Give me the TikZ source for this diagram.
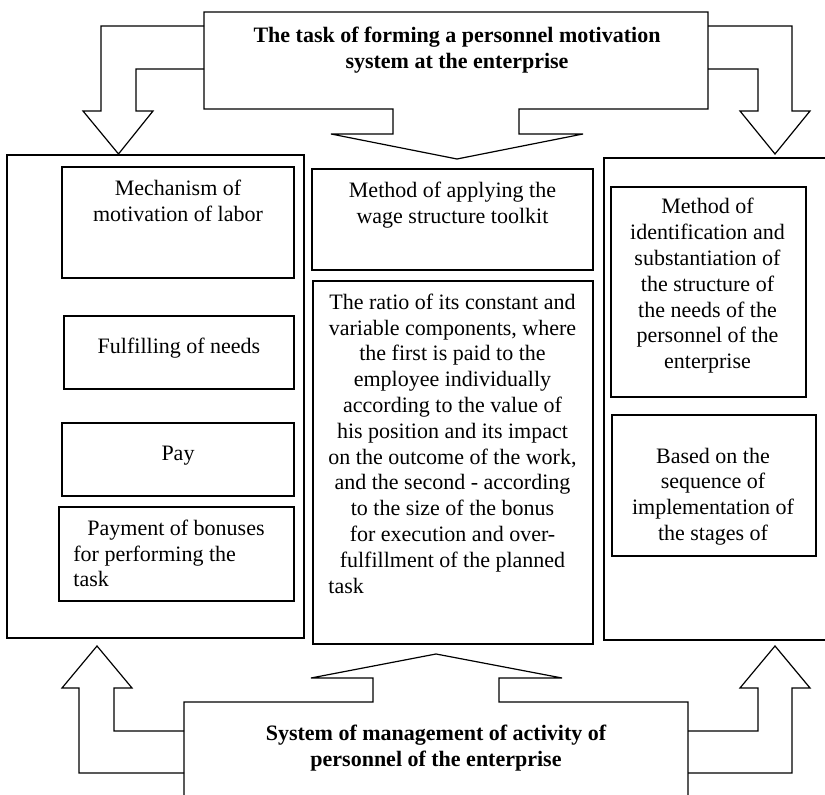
\documentclass[tikz,border=0pt]{standalone}
\usepackage{fontspec}
\setmainfont{Liberation Serif}
\usetikzlibrary{positioning}
\tikzset{
  panel/.style={draw, line width=0.6pt, inner sep=0pt},
  thinbox/.style={draw, line width=0.6pt, inner sep=0pt},
  thickbox/.style={draw, line width=1.3pt, inner sep=0pt},
  txt/.style={align=center, inner sep=0pt, font=\fontsize{11}{12.9}\selectfont},
  head/.style={align=center, inner sep=0pt, font=\bfseries\fontsize{11}{12.9}\selectfont},
  fat/.style={draw, line width=0.6pt, line join=miter},
}

\begin{document}
\begin{tikzpicture}[x=0.5pt,y=-0.5pt]
  \useasboundingbox (0,0) rectangle (825,795);
  % upper callout with its two block arrows
  \draw[fat] (204,12) -- (708,12) -- (708,109) -- (519,109) -- (519,134) -- (583,134)
    -- (457,159) -- (331,134) -- (393,134) -- (393,109) -- (204,109) -- cycle;
  \node[head] (task) at (457,50) {The task of forming a personnel motivation\\system at the enterprise};
  \draw[fat] (204,26) -- (101,26) -- (101,111) -- (83,111) -- (118.5,154) -- (153,111)
    -- (136,111) -- (136,69) -- (204,69);
  \draw[fat] (708,26) -- (792,26) -- (792,111) -- (810,111) -- (775,154) -- (740,111)
    -- (758,111) -- (758,69) -- (708,69);

  % left column
  \node[panel,minimum width=148.5pt,minimum height=241.5pt] (lpanel) at (155.5,396.5){};
  \node[thickbox,minimum width=116pt,minimum height=55.5pt] (mech) at (178,222.5){};
  \node[txt] (mechtxt) at (178,201){Mechanism of\\motivation of labor};
  \node[thinbox,minimum width=115pt,minimum height=36.5pt] (needs) at (179,352.5){};
  \node[txt] (needstxt) at (179,348){Fulfilling of needs};
  \node[thinbox,minimum width=116pt,minimum height=36.5pt] (pay) at (178,459.5){};
  \node[txt] (paytxt) at (178,456){Pay};
  \node[thinbox,minimum width=117.5pt,minimum height=47pt] (bonus) at (176.5,554){};
  \node[txt,align=left,anchor=west] (bonustxt) at (73,553.5)
    {\hspace*{7pt}Payment of bonuses\\for performing the\\task};

  % middle column
  \node[thickbox,minimum width=140.5pt,minimum height=50.5pt] (tool) at (452.5,219.5){};
  \node[txt] (tooltxt) at (452.5,205){Method of applying the\\wage structure toolkit};
  \node[thinbox,minimum width=140pt,minimum height=181.5pt] (ratio) at (453,462.5){};
  \node[txt] (ratiotxt) at (452.5,443.5){The ratio of its constant and\\variable components, where\\
    the first is paid to the\\employee individually\\according to the value of\\
    his position and its impact\\on the outcome of the work,\\and the second - according\\
    to the size of the bonus\\for execution and over-\hspace*{\fill}\\
    fulfillment of the planned\hspace*{\fill}\\task\hspace*{\fill}};

  % right column
  \node[panel,minimum width=115.5pt,minimum height=241pt] (rpanel) at (719.5,399){};
  \node[thickbox,minimum width=97.5pt,minimum height=105pt] (ident) at (708.5,292){};
  \node[txt] (identtxt) at (707.5,286){Method of\\identification and\\substantiation of\\
    the structure of\\the needs of the\\personnel of the\\enterprise};
  \node[thinbox,minimum width=102pt,minimum height=70.5pt] (based) at (714,485.5){};
  \node[txt] (basedtxt) at (713,496.5){Based on the\\sequence of\\implementation of\\the stages of};

  % lower callout with its two block arrows
  \draw[fat] (184,800) -- (184,702) -- (373,702) -- (373,678) -- (311,678) -- (436,654)
    -- (562,678) -- (499,678) -- (499,702) -- (688,702) -- (688,800);
  \node[head] (system) at (436,748) {System of management of activity of\\personnel of the enterprise};
  \draw[fat] (184,731) -- (114,731) -- (114,688) -- (132,688) -- (97,646) -- (62,688)
    -- (79,688) -- (79,773) -- (184,773);
  \draw[fat] (688,731) -- (758,731) -- (758,688) -- (740,688) -- (775,646) -- (810,688)
    -- (792,688) -- (792,773) -- (688,773);
\end{tikzpicture}
\end{document}
